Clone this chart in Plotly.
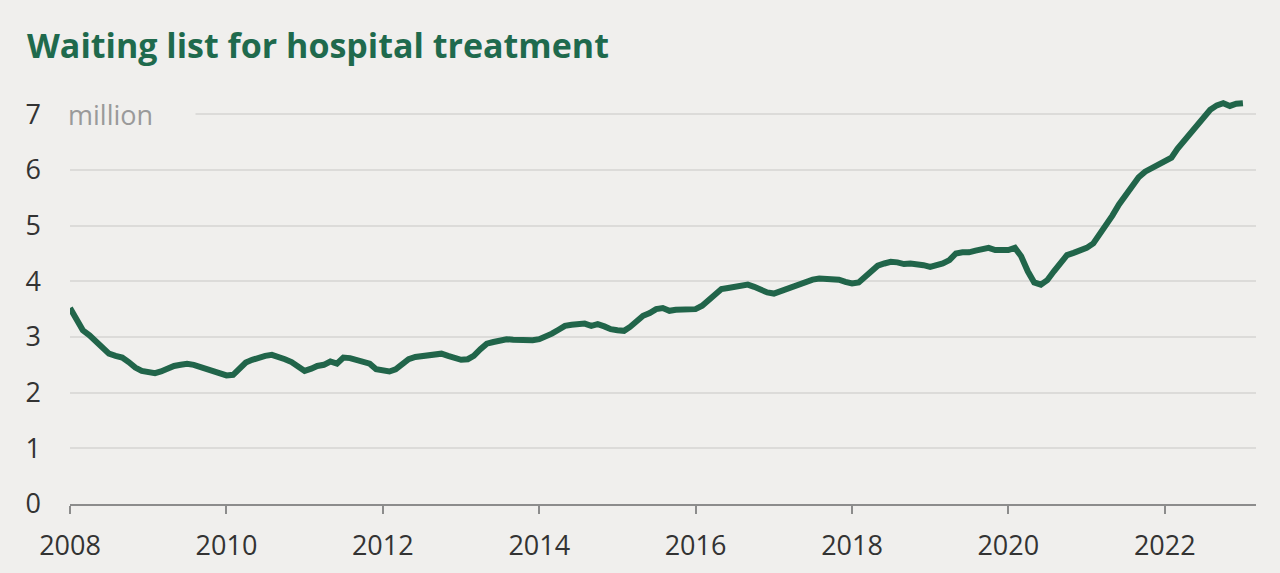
import plotly.graph_objects as go
import pandas as pd

# Monthly waiting list (millions), Jan 2008 - Jan 2023
values_2008 = [3.52, 3.30, 3.12, 3.03, 2.93, 2.82, 2.70, 2.66, 2.63, 2.55, 2.45, 2.39]
values_2009 = [2.36, 2.35, 2.38, 2.44, 2.48, 2.50, 2.52, 2.50, 2.46, 2.42, 2.37, 2.34]
values_2010 = [2.31, 2.32, 2.42, 2.54, 2.59, 2.63, 2.66, 2.68, 2.65, 2.60, 2.55, 2.46]
values_2011 = [2.39, 2.43, 2.48, 2.50, 2.56, 2.52, 2.63, 2.62, 2.59, 2.56, 2.52, 2.42]
values_2012 = [2.39, 2.38, 2.42, 2.52, 2.60, 2.64, 2.66, 2.68, 2.69, 2.70, 2.66, 2.62]
values_2013 = [2.59, 2.60, 2.66, 2.78, 2.88, 2.91, 2.94, 2.96, 2.95, 2.94, 2.94, 2.94]
values_2014 = [2.96, 3.00, 3.06, 3.13, 3.20, 3.22, 3.24, 3.24, 3.20, 3.23, 3.19, 3.14]
values_2015 = [3.12, 3.11, 3.18, 3.30, 3.38, 3.43, 3.50, 3.52, 3.47, 3.49, 3.50, 3.50]
values_2016 = [3.50, 3.56, 3.66, 3.78, 3.86, 3.88, 3.90, 3.93, 3.94, 3.90, 3.85, 3.80]
values_2017 = [3.78, 3.82, 3.87, 3.92, 3.96, 3.99, 4.03, 4.05, 4.05, 4.04, 4.03, 3.99]
values_2018 = [3.96, 3.98, 4.08, 4.20, 4.28, 4.32, 4.35, 4.34, 4.31, 4.32, 4.31, 4.29]
values_2019 = [4.26, 4.28, 4.32, 4.38, 4.50, 4.52, 4.52, 4.55, 4.58, 4.60, 4.56, 4.56]
values_2020 = [4.56, 4.60, 4.45, 4.18, 3.98, 3.94, 4.02, 4.18, 4.35, 4.47, 4.51, 4.55]
values_2021 = [4.60, 4.68, 4.83, 5.00, 5.18, 5.38, 5.55, 5.72, 5.87, 5.97, 6.03, 6.08]
values_2022 = [6.13, 6.22, 6.38, 6.52, 6.64, 6.80, 6.95, 7.08, 7.16, 7.20, 7.15, 7.19]
values_2023 = [7.20]

waiting_list = (values_2008 + values_2009 + values_2010 + values_2011 + values_2012
                + values_2013 + values_2014 + values_2015 + values_2016 + values_2017
                + values_2018 + values_2019 + values_2020 + values_2021 + values_2022
                + values_2023)
months = pd.date_range("2008-01-01", periods=len(waiting_list), freq="MS")

y_ticks = [0, 1, 2, 3, 4, 5, 6, 7]
x_ticks = ["2008-01-01", "2010-01-01", "2012-01-01", "2014-01-01", "2016-01-01",
           "2018-01-01", "2020-01-01", "2022-01-01"]
x_tick_labels = ["2008", "2010", "2012", "2014", "2016", "2018", "2020", "2022"]

BG = "#f0efed"
GREEN = "#21654a"

fig = go.Figure()
fig.add_trace(go.Scatter(
    x=months, y=waiting_list, mode="lines",
    line=dict(color=GREEN, width=6, shape="linear"),
    hoverinfo="skip", showlegend=False,
))

fig.update_layout(
    width=1280, height=573,
    paper_bgcolor=BG, plot_bgcolor=BG,
    margin=dict(l=70, r=24, t=92, b=69),
    font=dict(family="Open Sans", color="#333333"),
    title=dict(
        text="<b>Waiting list for hospital treatment</b>",
        x=27 / 1280, xanchor="left", xref="container",
        y=1 - 46 / 573, yanchor="middle", yref="container",
        font=dict(family="Open Sans", size=34, color="#1f6a4d"),
    ),
    xaxis=dict(
        type="date",
        range=["2008-01-01", "2023-03-03"],
        tickvals=x_ticks, ticktext=x_tick_labels,
        showgrid=False, zeroline=False,
        showline=True, linecolor="#8c8c8c", linewidth=1.5,
        ticks="outside", ticklen=8, tickcolor="#8c8c8c", tickwidth=1.5,
        tickfont=dict(size=27, color="#333333"),
        ticklabelstandoff=9,
        automargin=False,
        fixedrange=True,
    ),
    yaxis=dict(
        range=[0, 7.4],
        tickvals=y_ticks,
        showgrid=True, gridcolor="#dcdbd9", gridwidth=1.5,
        zeroline=False, showline=False, ticks="",
        tickfont=dict(size=27, color="#333333"),
        ticklabelstandoff=28,
        automargin=False,
        fixedrange=True,
    ),
)

fig.add_annotation(
    x=0, xref="paper", y=7, yref="y",
    xanchor="left", yanchor="middle", xshift=-4,
    text="million", showarrow=False, align="left",
    width=126, bgcolor=BG,
    font=dict(size=27, color="#9a9a9a", family="Open Sans"),
)

fig.write_html("out.html", config={"displayModeBar": False},
               post_script="document.body.style.margin='0';")
